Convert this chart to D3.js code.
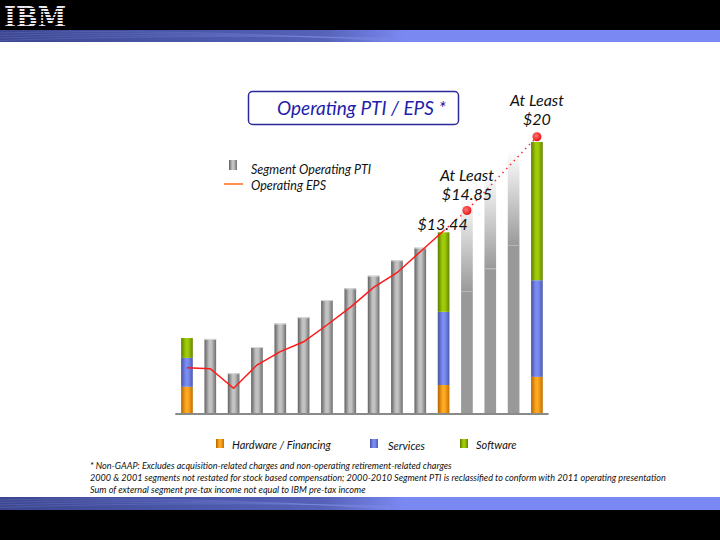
<!DOCTYPE html>
<html>
<head>
<meta charset="utf-8">
<title>Operating PTI / EPS</title>
<script src="https://d3js.org/d3.v7.min.js"></script>
<style>
  body { margin: 0; background: #fff; }
  svg text { font-family: Lato, "Open Sans", sans-serif; font-style: italic; }
</style>
</head>
<body>
<div id="chart"></div>
<script>

// ---- data ----
const years = ["2000","2001","2002","2003","2004","2005","2006","2007","2008","2009","2010","2011","2012","2013","2014","2015"];

// segment PTI ($B) for the years shown split by segment
const segYears = ["2000", "2011", "2015"];
const hardware = [2.9, 3.1, 4.0];
const services = [3.2, 8.1, 10.7];
const software = [2.2, 8.8, 15.3];

// plain grey bars
const grayYears = ["2001","2002","2003","2004","2005","2006","2007","2008","2009","2010"];
const grayPTI = [8.2, 4.4, 7.3, 9.9, 10.6, 12.5, 13.8, 15.2, 16.9, 18.3];

// roadmap years: solid part and faded top
const roadYears = ["2012", "2013", "2014"];
const roadLow = [13.5, 16.0, 18.6];
const roadHigh = [24.0, 26.6, 29.0];

// operating EPS
const epsYears = ["2000","2001","2002","2003","2004","2005","2006","2007","2008","2009","2010","2011"];
const eps = [3.88, 3.81, 2.44, 4.07, 5.00, 5.69, 6.86, 8.09, 9.49, 10.51, 11.97, 13.44];

// targets
const targetYears = ["2011", "2012", "2015"];
const targetEps = [13.44, 14.85, 20];
const targetLabels = [["$13.44"], ["At Least", "$14.85"], ["At Least", "$20"]];

const legendTop = ["Segment Operating PTI", "Operating EPS"];
const legendBottom = ["Hardware / Financing", "Services", "Software"];
const footnotes = [
  "* Non-GAAP:  Excludes acquisition-related charges and non-operating retirement-related charges",
  "2000 & 2001 segments not restated for stock based compensation; 2000-2010 Segment PTI is reclassified to conform with 2011 operating presentation",
  "Sum of external segment pre-tax income not equal to IBM pre-tax income"
];

const W = 720, H = 540;

const svg = d3.select("#chart").append("svg")
  .attr("width", W)
  .attr("height", H);

const defs = svg.append("defs");

// cylinder style gradients for bars
function cylinder(id, dark, light, mid) {
  const g = defs.append("linearGradient").attr("id", id)
    .attr("x1", 0).attr("x2", 1).attr("y1", 0).attr("y2", 0);
  g.append("stop").attr("offset", "0%").attr("stop-color", dark);
  g.append("stop").attr("offset", "40%").attr("stop-color", light);
  g.append("stop").attr("offset", "60%").attr("stop-color", light);
  g.append("stop").attr("offset", "100%").attr("stop-color", mid);
}
cylinder("gGray", "#606060", "#c2c2c2", "#6e6e6e");
cylinder("gOrange", "#b06400", "#ffa820", "#c07000");
cylinder("gBlue", "#45529e", "#7a8cf4", "#4c5aa8");
cylinder("gGreen", "#5e7c00", "#9fcc08", "#668400");

// fading top for roadmap bars
const fade = defs.append("linearGradient").attr("id", "gFade")
  .attr("x1", 0).attr("x2", 0).attr("y1", 0).attr("y2", 1);
fade.append("stop").attr("offset", "0%").attr("stop-color", "#fff");
fade.append("stop").attr("offset", "100%").attr("stop-color", "#9a9a9a");

// header / footer band
const band = defs.append("linearGradient").attr("id", "gBand")
  .attr("x1", 0).attr("x2", 1).attr("y1", 0).attr("y2", 0);
band.append("stop").attr("offset", "0%").attr("stop-color", "#3c4690");
band.append("stop").attr("offset", "25%").attr("stop-color", "#4a56a8");
band.append("stop").attr("offset", "45%").attr("stop-color", "#5662b8");
band.append("stop").attr("offset", "56%").attr("stop-color", "#7a88f2");
band.append("stop").attr("offset", "100%").attr("stop-color", "#7a88f4");

// stripes for the logo
const stripes = defs.append("pattern").attr("id", "pStripe")
  .attr("patternUnits", "userSpaceOnUse")
  .attr("width", 6).attr("height", 3);
stripes.append("rect").attr("width", 6).attr("height", 2).attr("fill", "#e8e8f0");

// dot gradient
const dot = defs.append("radialGradient").attr("id", "gDot")
  .attr("cx", "40%").attr("cy", "40%").attr("r", "60%");
dot.append("stop").attr("offset", "0%").attr("stop-color", "#ff7777");
dot.append("stop").attr("offset", "100%").attr("stop-color", "#ee1111");

// ---- header and footer ----
svg.append("rect").attr("x", 0).attr("y", 0).attr("width", W).attr("height", 30).attr("fill", "#000");
svg.append("rect").attr("x", 0).attr("y", 30).attr("width", W).attr("height", 12).attr("fill", "url(#gBand)");
svg.append("rect").attr("x", 0).attr("y", 497).attr("width", W).attr("height", 13).attr("fill", "url(#gBand)");
svg.append("rect").attr("x", 0).attr("y", 510).attr("width", W).attr("height", 30).attr("fill", "#000");

// some faint curved texture in the bands
[[30, 42], [497, 510]].forEach(function(b) {
  for (let i = 0; i < 4; i++) {
    svg.append("path")
      .attr("d", `M0,${b[0] + 3 + i * 2.5} Q180,${b[0] - 2 + i * 2} 390,${b[1] - 1 - i}`)
      .attr("fill", "none")
      .attr("stroke", "#8a96e8")
      .attr("stroke-opacity", 0.25)
      .attr("stroke-width", 1);
  }
});

svg.append("text")
  .attr("x", 4)
  .attr("y", 27)
  .attr("textLength", 62)
  .attr("lengthAdjust", "spacingAndGlyphs")
  .style("font-family", "'DejaVu Serif', serif")
  .style("font-style", "normal")
  .style("font-weight", "bold")
  .style("font-size", "28px")
  .attr("fill", "url(#pStripe)")
  .text("IBM");

// ---- scales ----
const baseY = 413;
const x = d3.scaleBand()
  .domain(years)
  .range([175.3, 548.6])
  .paddingInner(0.5)
  .paddingOuter(0.25);

const y = d3.scaleLinear()
  .domain([0, 30])
  .range([baseY, 142]);

const yEps = d3.scaleLinear()
  .domain([0, 20])
  .range([423.3, 136.7]);

const plot = svg.append("g");

// grey bars
plot.selectAll(".gray")
  .data(grayYears.map((d, i) => ({ year: d, v: grayPTI[i] })))
  .join("rect")
    .attr("class", "gray")
    .attr("x", d => x(d.year))
    .attr("y", d => y(d.v))
    .attr("width", x.bandwidth())
    .attr("height", d => y(0) - y(d.v))
    .attr("fill", "url(#gGray)");

// light top edge on grey bars
plot.selectAll(".cap")
  .data(grayYears.map((d, i) => ({ year: d, v: grayPTI[i] })))
  .join("rect")
    .attr("class", "cap")
    .attr("x", d => x(d.year))
    .attr("y", d => y(d.v))
    .attr("width", x.bandwidth())
    .attr("height", 1)
    .attr("fill", "#d8d8d8");

// roadmap bars
const road = roadYears.map((d, i) => ({ year: d, lo: roadLow[i], hi: roadHigh[i] }));
plot.selectAll(".roadTop")
  .data(road)
  .join("rect")
    .attr("class", "roadTop")
    .attr("x", d => x(d.year))
    .attr("y", d => y(d.hi))
    .attr("width", x.bandwidth())
    .attr("height", d => y(d.lo) - y(d.hi))
    .attr("fill", "url(#gFade)");
plot.selectAll(".roadLow")
  .data(road)
  .join("rect")
    .attr("class", "roadLow")
    .attr("x", d => x(d.year))
    .attr("y", d => y(d.lo))
    .attr("width", x.bandwidth())
    .attr("height", d => y(0) - y(d.lo))
    .attr("fill", "#999");
plot.selectAll(".roadEdge")
  .data(road)
  .join("rect")
    .attr("class", "roadEdge")
    .attr("x", d => x(d.year))
    .attr("y", d => y(d.lo))
    .attr("width", x.bandwidth())
    .attr("height", 1)
    .attr("fill", "#b8b8b8");

// stacked segment bars
const segData = segYears.map((d, i) => ({ year: d, hardware: hardware[i], services: services[i], software: software[i] }));
const stack = d3.stack().keys(["hardware", "services", "software"])(segData);
const segFill = { hardware: "url(#gOrange)", services: "url(#gBlue)", software: "url(#gGreen)" };

plot.selectAll(".seg")
  .data(stack)
  .join("g")
    .attr("fill", d => segFill[d.key])
  .selectAll("rect")
  .data(d => d)
  .join("rect")
    .attr("x", d => x(d.data.year))
    .attr("y", d => y(d[1]))
    .attr("width", x.bandwidth())
    .attr("height", d => y(d[0]) - y(d[1]));

// baseline
plot.append("line")
  .attr("x1", x.range()[0]).attr("x2", x.range()[1])
  .attr("y1", baseY + 1).attr("y2", baseY + 1)
  .attr("stroke", "#8a8a8a")
  .attr("stroke-width", 2);

// EPS line
const cx = d => x(d) + x.bandwidth() / 2;
const line = d3.line()
  .x(d => cx(d.year))
  .y(d => yEps(d.v));

plot.append("path")
  .datum(epsYears.map((d, i) => ({ year: d, v: eps[i] })))
  .attr("d", line)
  .attr("fill", "none")
  .attr("stroke", "#ff1a1a")
  .attr("stroke-width", 1.5);

const targets = targetYears.map((d, i) => ({ year: d, v: targetEps[i], label: targetLabels[i] }));
plot.append("path")
  .datum(targets)
  .attr("d", line)
  .attr("fill", "none")
  .attr("stroke", "#ff2a2a")
  .attr("stroke-width", 1.5)
  .attr("stroke-dasharray", "1.5,4");

plot.selectAll(".dot")
  .data(targets.slice(1))
  .join("circle")
    .attr("class", "dot")
    .attr("cx", d => cx(d.year))
    .attr("cy", d => yEps(d.v))
    .attr("r", 4.5)
    .attr("fill", "url(#gDot)");

// target labels, offset above their point
const labelShift = [-1, -10, -12];
const tl = plot.selectAll(".tlabel")
  .data(targets)
  .join("text")
    .attr("class", "tlabel")
    .attr("text-anchor", "middle")
    .style("font-size", "16px")
    .attr("fill", "#111");
tl.each(function(d, i) {
  const t = d3.select(this);
  const n = d.label.length;
  const lx = cx(d.year) + (i === 0 ? -1 : 0);
  const ly = yEps(d.v) + labelShift[i];
  d.label.forEach(function(s, k) {
    t.append("tspan")
      .attr("x", lx)
      .attr("y", ly - (n - 1 - k) * 19)
      .text(s);
  });
});

// ---- title box ----
svg.append("rect")
  .attr("x", 248.5).attr("y", 91.5)
  .attr("width", 210).attr("height", 33)
  .attr("rx", 4)
  .attr("fill", "#fff")
  .attr("stroke", "#2a2a9c")
  .attr("stroke-width", 1.5);
svg.append("text")
  .attr("x", 277)
  .attr("y", 115)
  .style("font-size", "19px")
  .attr("fill", "#1e1eaa")
  .text("Operating PTI / EPS *");

// ---- top legend ----
svg.append("rect")
  .attr("x", 229).attr("y", 160)
  .attr("width", 8).attr("height", 10)
  .attr("fill", "url(#gGray)");
svg.append("line")
  .attr("x1", 224).attr("x2", 243)
  .attr("y1", 184).attr("y2", 184)
  .attr("stroke", "#ff6a1a")
  .attr("stroke-width", 1.5);
svg.selectAll(".legTop")
  .data(legendTop)
  .join("text")
    .attr("class", "legTop")
    .attr("x", 251)
    .attr("y", (d, i) => 174 + i * 16)
    .style("font-size", "12.5px")
    .attr("fill", "#111")
    .text(d => d);

// ---- bottom legend ----
const legFill = ["url(#gOrange)", "url(#gBlue)", "url(#gGreen)"];
const legX = [216, 370, 460];
const legTextX = [232, 388, 476];
legendBottom.forEach(function(s, i) {
  svg.append("rect")
    .attr("x", legX[i]).attr("y", 439)
    .attr("width", 8).attr("height", 9)
    .attr("fill", legFill[i]);
  svg.append("text")
    .attr("x", legTextX[i])
    .attr("y", 449 + (i === 1 ? 1 : 0))
    .style("font-size", "11px")
    .attr("fill", "#111")
    .text(s);
});

// ---- footnotes ----
svg.selectAll(".note")
  .data(footnotes)
  .join("text")
    .attr("class", "note")
    .attr("x", 90)
    .attr("y", (d, i) => 469 + i * 12)
    .style("font-size", "9.1px")
    .attr("fill", "#111")
    .text(d => d);

</script>
</body>
</html>
